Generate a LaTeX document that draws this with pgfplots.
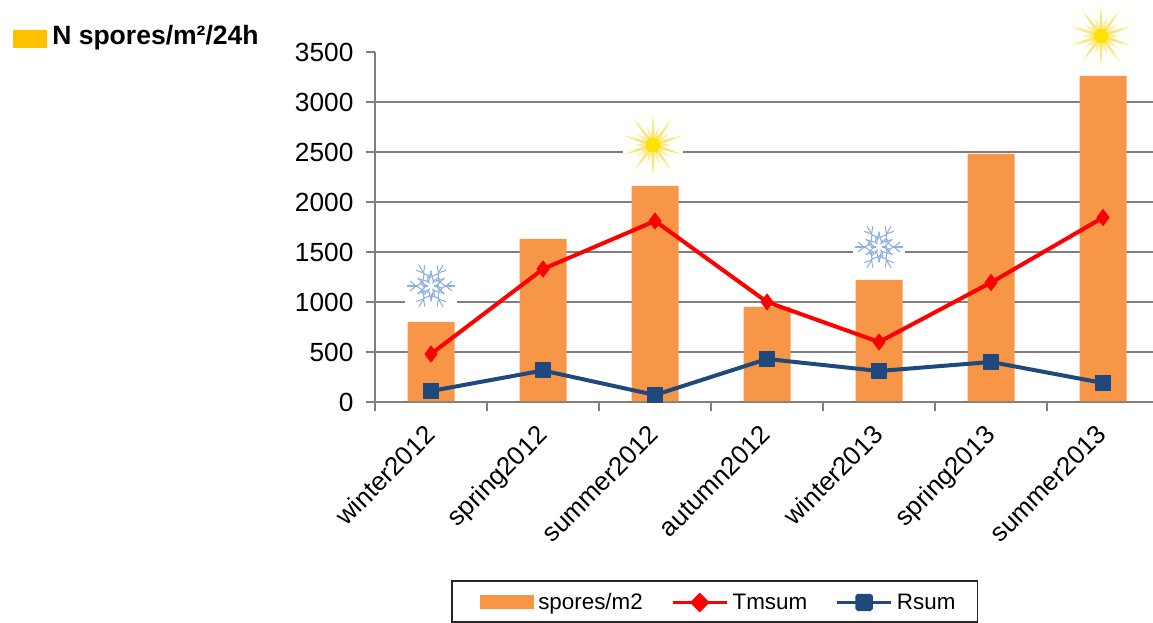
\documentclass[border=0pt]{standalone}
\usepackage{pgfplots}
\pgfplotsset{compat=1.18}
\usepackage{fontspec}
\setmainfont{Liberation Sans}
\definecolor{barorange}{HTML}{F79646}
\definecolor{rsumblue}{HTML}{1F497D}
\definecolor{axisgrey}{HTML}{7F7F7F}
\definecolor{keygold}{HTML}{FFC000}
\definecolor{sunray}{HTML}{F8E677}
\definecolor{suncore}{HTML}{FFE100}
\definecolor{sunhalo}{HTML}{FFFFFB}
\definecolor{flakeblue}{HTML}{8FB0DC}
\newlength{\ux}
\setlength{\ux}{0.75pt}

% Sun ornament: ten long tapered rays with short ones between, round a disc
\newcommand{\sunicon}[1]{%
  \begin{scope}[shift={(#1)},x=\ux,y=\ux]
    \fill[sunhalo] (-30,-33) rectangle (30,33);
    \foreach \a in {0,36,...,324}{
      \fill[sunray,rotate=\a+18,opacity=.75] (-1.5,8) .. controls (-1,14) .. (0,20) .. controls (1,14) .. (1.5,8) -- cycle;
      \fill[sunray,rotate=\a] (-2,6) .. controls (-1.3,18) .. (0,31) .. controls (1.3,18) .. (2,6) -- cycle;
    }
    \fill[suncore] (0,0) circle (7.5);
  \end{scope}}

% Snowflake ornament: six branched arms and an inner ring of cells
\newcommand{\flakeicon}[1]{%
  \begin{scope}[shift={(#1)},x=\ux,y=\ux]
    \fill[white] (-26,-25) rectangle (26,25);
    \foreach \a in {0,60,...,300}{
      \begin{scope}[rotate=\a,draw=flakeblue,line width=0.8pt]
        \draw (13,0) -- (24,0);
        \draw (15,0) -- (21,5) (15,0) -- (21,-5);
        \draw (8,3) -- (13,8) (8,-3) -- (13,-8);
        \draw (5,0) -- (9,4) -- (14,0) -- (9,-4) -- cycle;
        \draw (3,0) -- (8,0);
        \draw (7,6.5) circle (1.8);
      \end{scope}
    }
  \end{scope}}

\begin{document}
\begin{tikzpicture}[x=\ux,y=\ux]
  \useasboundingbox (0,0) rectangle (1153,623);

  % Heading with its colour key
  \fill[keygold,rounded corners=0.6pt] (13,623-48) rectangle (47,623-30);
  \node[anchor=base west,inner sep=0pt,font=\fontsize{19.9pt}{22pt}\selectfont\bfseries]
    at (52,623-44.5) {N spores/m²/24h};

  % Frame round the key
  \draw[black!85,line width=1pt] (452,623-581) rectangle (977.5,623-622);

  \begin{axis}[
    at={(375\ux,221\ux)},
    anchor=south west,
    scale only axis,
    width=778\ux,
    height=350\ux,
    xmin=-0.5, xmax=6.446,
    ymin=0, ymax=3500,
    axis x line*=bottom,
    axis y line*=left,
    axis line style={axisgrey,line width=1.5pt,-},
    clip=false,
    xtick={-0.5,0.5,1.5,2.5,3.5,4.5,5.5},
    xticklabels={},
    ytick={0,500,...,3500},
    extra y ticks={500,1000,...,3000},
    extra y tick labels={},
    extra y tick style={grid=major,major grid style={axisgrey,line width=1.5pt}},
    extra x ticks={0,1,2,3,4,5,6},
    extra x tick labels={winter2012,spring2012,summer2012,autumn2012,winter2013,spring2013,summer2013},
    extra x tick style={
      major tick length=0pt,
      xticklabel style={rotate=45,anchor=north east,inner sep=0pt,xshift=-15.2pt,yshift=-7pt,font=\fontsize{19.5pt}{22pt}\selectfont}
    },
    major tick style={axisgrey,line width=1pt},
    tick align=outside,
    major tick length=7pt,
    yticklabel style={font=\fontsize{19.7pt}{22pt}\selectfont,inner sep=0pt,xshift=-9pt},
    /pgf/number format/assume math mode=true,
    /pgf/number format/1000 sep={},
    legend style={
      at={(81\ux,-218.5\ux)},
      anchor=south west,
      draw=none,
      fill=none,
      inner xsep=18pt,
      inner ysep=4.5pt,
      font=\fontsize{16.8pt}{19pt}\selectfont,
      /tikz/every even column/.append style={column sep=19pt},
      /tikz/every odd column/.append style={column sep=1pt},
    },
    legend columns=3,
  ]
    \addplot[ybar,bar width=47\ux,bar shift=0pt,fill=barorange,draw=none,
      legend image code/.code={\fill[barorange,draw=none] (0,-7\ux) rectangle (40.5pt,7\ux);}]
      coordinates {(0,800)(1,1630)(2,2160)(3,950)(4,1220)(5,2480)(6,3260)};
    \addlegendentry{spores/m2}

    \addplot[draw=red,line width=3pt,mark=diamond*,mark size=6pt,
      mark options={fill=red,draw=red,line width=0.7pt,line join=round},
      legend image code/.code={
        \draw[red,line width=2.8pt] (0,0) -- (40.5pt,0);
        \fill[red] (20.25pt,5.3pt) -- ++(5.3pt,-5.3pt) -- ++(-5.3pt,-5.3pt) -- ++(-5.3pt,5.3pt) -- cycle;}]
      coordinates {(0,480)(1,1330)(2,1810)(3,1000)(4,600)(5,1195)(6,1845)};
    \addlegendentry{Tmsum}

    \addplot[draw=rsumblue,line width=3pt,mark=square*,mark size=5.5pt,
      mark options={fill=rsumblue,draw=rsumblue,line width=1pt,line join=round},
      legend image code/.code={
        \draw[rsumblue,line width=2.8pt] (0,0) -- (40.5pt,0);
        \fill[rsumblue,rounded corners=0.8pt] (15.25pt,-5pt) rectangle (25.25pt,5pt);}]
      coordinates {(0,110)(1,315)(2,70)(3,430)(4,310)(5,400)(6,190)};
    \addlegendentry{Rsum}

    % Horizontal axis line laid over the feet of the bars
    \draw[axisgrey,opacity=.75,line width=1.5pt] (axis cs:-0.5,0) -- (axis cs:6.446,0);

    % Anchors for the season ornaments
    \coordinate (sunA) at (axis cs:1.982,2570);
    \coordinate (sunB) at (axis cs:5.982,3660);
    \coordinate (flakeA) at (axis cs:0,1160);
    \coordinate (flakeB) at (axis cs:4,1550);
  \end{axis}

  \sunicon{sunA}
  \sunicon{sunB}
  \flakeicon{flakeA}
  \flakeicon{flakeB}
\end{tikzpicture}
\end{document}
